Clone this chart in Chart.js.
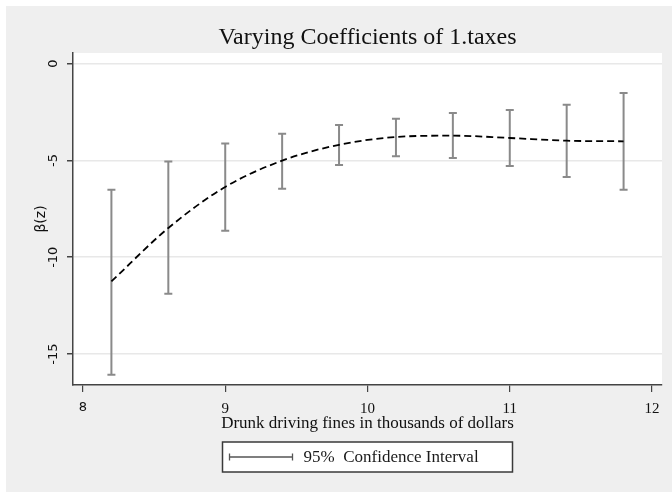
<!DOCTYPE html>
<html>
<head>
<meta charset="utf-8">
<script src="https://cdn.jsdelivr.net/npm/chart.js@4/dist/chart.umd.min.js"></script>
<style>
    html, body { margin: 0; padding: 0; background: #ffffff; }
    #wrap { width: 672px; height: 492px; }
</style>
</head>
<body>
<div id="wrap"><canvas id="coef-chart" width="672" height="492"></canvas></div>
<script>
// Fine levels (thousands of dollars) where the coefficient was estimated
const fineLevels = [8.2, 8.6, 9.0, 9.4, 9.8, 10.2, 10.6, 11.0, 11.4, 11.8];
// Point estimates of beta(z)
const betaValues = [-11.25, -8.49, -6.37, -5.01, -4.19, -3.79, -3.72, -3.84, -3.98, -4.01];
// 95% confidence bounds
const upperBound = [-6.51, -5.05, -4.12, -3.62, -3.17, -2.84, -2.55, -2.39, -2.12, -1.52];
const lowerBound = [-16.07, -11.89, -8.63, -6.46, -5.24, -4.79, -4.87, -5.29, -5.86, -6.51];

// Tick labels
const xTicks = [8, 9, 10, 11, 12];
const yTicks = [0, -5, -10, -15];

const legendText = '95%  Confidence Interval';

const serif = '"Liberation Serif", "Times New Roman", serif';
const sans = '"DejaVu Sans", Verdana, sans-serif';

// Stata-like background: white frame, grey graph region, white plot region
const backgroundPlugin = {
    id: 'background',
    afterLayout(chart) {
        // centre the title over the plot region, like Stata does
        if (chart.titleBlock) {
            chart.titleBlock.left = chart.chartArea.left;
            chart.titleBlock.right = chart.chartArea.right;
        }
    },
    beforeDraw(chart) {
        const { ctx, width, height, chartArea } = chart;
        ctx.save();
        ctx.fillStyle = '#ffffff';
        ctx.fillRect(0, 0, width, height);
        ctx.fillStyle = '#efefef';
        ctx.fillRect(6, 6, width - 6, height - 6);
        ctx.fillStyle = '#ffffff';
        ctx.fillRect(chartArea.left, chartArea.top, chartArea.right - chartArea.left, chartArea.bottom - chartArea.top);
        ctx.restore();
    }
};

// Error bars drawn through the chart's scales
const errorBarPlugin = {
    id: 'errorBars',
    beforeDatasetsDraw(chart) {
        const { ctx, scales } = chart;
        const cap = 4;
        ctx.save();
        ctx.strokeStyle = '#8a8a8a';
        ctx.lineWidth = 2;
        fineLevels.forEach((x, i) => {
            const px = scales.x.getPixelForValue(x);
            const top = scales.y.getPixelForValue(upperBound[i]);
            const bottom = scales.y.getPixelForValue(lowerBound[i]);
            ctx.beginPath();
            ctx.moveTo(px, top);
            ctx.lineTo(px, bottom);
            ctx.moveTo(px - cap, top);
            ctx.lineTo(px + cap, top);
            ctx.moveTo(px - cap, bottom);
            ctx.lineTo(px + cap, bottom);
            ctx.stroke();
        });
        ctx.restore();
    }
};

// Boxed legend below the x axis title
const legendBoxPlugin = {
    id: 'legendBox',
    afterDraw(chart) {
        const { ctx, chartArea } = chart;
        const cx = (chartArea.left + chartArea.right) / 2;
        const boxW = 290;
        const boxH = 30;
        const left = cx - boxW / 2;
        const top = chartArea.bottom + 57;
        ctx.save();
        ctx.fillStyle = '#ffffff';
        ctx.fillRect(left, top, boxW, boxH);
        ctx.strokeStyle = '#3a3a3a';
        ctx.lineWidth = 1.5;
        ctx.strokeRect(left, top, boxW, boxH);

        const midY = top + boxH / 2;
        const x1 = left + 7;
        const x2 = left + 70;
        ctx.strokeStyle = '#555555';
        ctx.lineWidth = 1.3;
        ctx.beginPath();
        ctx.moveTo(x1, midY);
        ctx.lineTo(x2, midY);
        ctx.moveTo(x1, midY - 3.5);
        ctx.lineTo(x1, midY + 3.5);
        ctx.moveTo(x2, midY - 3.5);
        ctx.lineTo(x2, midY + 3.5);
        ctx.stroke();

        ctx.fillStyle = '#1a1a1a';
        ctx.font = '17px ' + serif;
        ctx.textBaseline = 'middle';
        ctx.textAlign = 'left';
        ctx.fillText(legendText, left + 81, midY + 1);
        ctx.restore();
    }
};

const ctx = document.getElementById('coef-chart').getContext('2d');

const coefChart = new Chart(ctx, {
    type: 'line',
    data: {
        datasets: [{
            label: 'beta(z)',
            data: fineLevels.map((x, i) => ({ x: x, y: betaValues[i] })),
            borderColor: '#000000',
            borderWidth: 1.8,
            borderDash: [7, 4],
            pointRadius: 0,
            fill: false,
            cubicInterpolationMode: 'monotone'
        }]
    },
    options: {
        responsive: false,
        animation: false,
        layout: {
            padding: { left: 0, top: 0, right: 10, bottom: 0 }
        },
        plugins: {
            legend: { display: false },
            tooltip: { enabled: false },
            title: {
                display: true,
                text: 'Varying Coefficients of 1.taxes',
                color: '#111111',
                font: { family: serif, size: 24, weight: 'normal', lineHeight: 1.2 },
                padding: { top: 23.6, bottom: 0.6 }
            }
        },
        scales: {
            x: {
                type: 'linear',
                min: 7.93,
                max: 12.07,
                afterBuildTicks: scale => {
                    scale.ticks = xTicks.map(v => ({ value: v }));
                },
                afterFit: scale => {
                    scale.height = 107;
                },
                border: { display: true, color: '#444444', width: 1.5 },
                grid: {
                    drawOnChartArea: false,
                    drawTicks: true,
                    tickLength: 7,
                    tickColor: '#444444',
                    lineWidth: 1.2
                },
                ticks: {
                    color: '#111111',
                    padding: 8,
                    maxRotation: 0,
                    font: c => ({ family: c.tick && c.tick.value === 8 ? sans : serif, size: c.tick && c.tick.value === 8 ? 13 : 15 })
                },
                title: {
                    display: true,
                    text: 'Drunk driving fines in thousands of dollars',
                    color: '#111111',
                    font: { family: serif, size: 17, lineHeight: 1.2 },
                    padding: { top: 0, bottom: 57.8 }
                }
            },
            y: {
                type: 'linear',
                min: -16.6,
                max: 0.55,
                afterBuildTicks: scale => {
                    scale.ticks = yTicks.map(v => ({ value: v }));
                },
                afterFit: scale => {
                    scale.width = 73;
                },
                border: { display: true, color: '#444444', width: 1.5 },
                grid: {
                    drawOnChartArea: true,
                    color: '#e8e8e8',
                    lineWidth: 1.5,
                    drawTicks: true,
                    tickLength: 6,
                    tickColor: '#444444'
                },
                ticks: {
                    color: '#111111',
                    minRotation: 90,
                    maxRotation: 90,
                    crossAlign: 'center',
                    padding: 3,
                    font: { family: sans, size: 13 }
                },
                title: {
                    display: true,
                    text: 'β(z)',
                    color: '#111111',
                    font: { family: sans, size: 14, lineHeight: 1.2 },
                    padding: { top: 32.5, bottom: 0 }
                }
            }
        }
    },
    plugins: [backgroundPlugin, errorBarPlugin, legendBoxPlugin]
});
</script>
</body>
</html>
